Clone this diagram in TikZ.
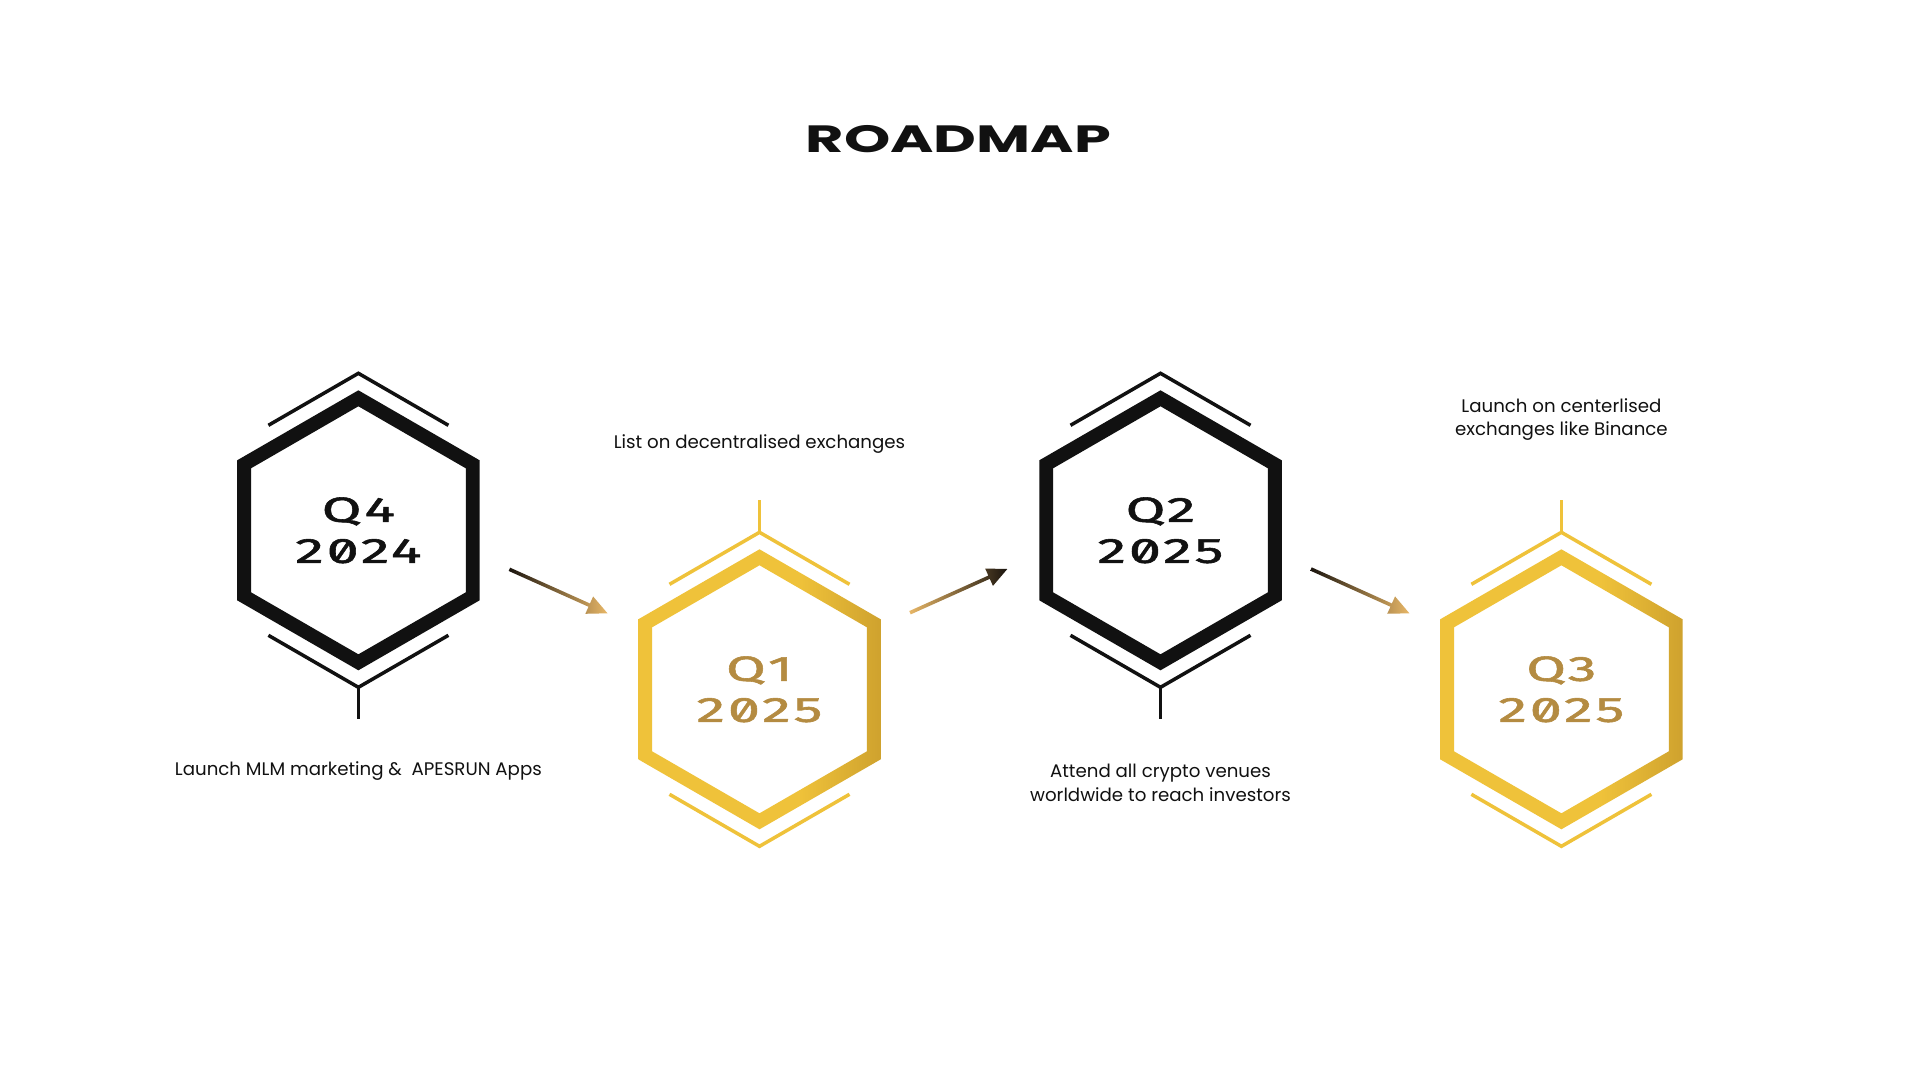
\documentclass[tikz,border=0pt]{standalone}
\usepackage{fontspec}
\setmainfont{Poppins}
\newfontfamily\titlefont[FakeStretch=1.55]{Poppins}
\newfontfamily\qfont[RawFeature=+zero,FakeStretch=1.65,LetterSpace=8,FakeBold=1.6]{Fira Sans}
\usetikzlibrary{calc}
\definecolor{ink}{HTML}{111111}
\definecolor{gold}{HTML}{EFC23A}
\definecolor{golddark}{HTML}{CFA22E}
\definecolor{goldtext}{HTML}{B48B41}
\definecolor{arrowgold}{HTML}{E8B767}
\definecolor{arrowdark}{HTML}{1A140E}
\pgfdeclarehorizontalshading{goldring}{100bp}{color(0bp)=(gold); color(58bp)=(gold); color(75bp)=(golddark); color(100bp)=(golddark)}
\tikzset{
  chev/.style={line width=3.5pt, line cap=butt, line join=miter},
  qlabel/.style={font=\qfont\fontsize{35}{41}\selectfont, align=center, inner sep=0pt},
  desc/.style={font=\fontsize{18.2}{23.5}\selectfont, align=center, inner sep=0pt, text=ink},
  blackhex/.pic={
    \fill[ink, even odd rule] (90:140) -- (30:140) -- (-30:140) -- (-90:140) -- (-150:140) -- (150:140) -- cycle
      (90:124) -- (30:124) -- (-30:124) -- (-90:124) -- (-150:124) -- (150:124) -- cycle;
    \draw[chev, ink] (-90,-105) -- (0,-157) -- (90,-105);
    \draw[chev, ink] (-90,105) -- (0,157) -- (90,105);
    \draw[chev, ink] (0,157) -- (0,189);
  },
  goldhex/.pic={
    \shade[shading=goldring, even odd rule] (90:140) -- (30:140) -- (-30:140) -- (-90:140) -- (-150:140) -- (150:140) -- cycle
      (90:124) -- (30:124) -- (-30:124) -- (-90:124) -- (-150:124) -- (150:124) -- cycle;
    \draw[chev, gold] (-90,-105) -- (0,-157) -- (90,-105);
    \draw[chev, gold] (0,-157) -- (0,-189);
    \draw[chev, gold] (-90,105) -- (0,157) -- (90,105);
  }
}
\newcommand\gradarrow[4]{%
  \coordinate (hb) at ($(#2)!20pt!(#1)$);
  \shade[left color=#3, right color=#4]
    ($(#1)!1.8pt!90:(#2)$) -- ($(hb)!1.8pt!-90:(#1)$) -- ($(hb)!9.5pt!-90:(#1)$) -- (#2)
    -- ($(hb)!9.5pt!90:(#1)$) -- ($(hb)!1.8pt!90:(#1)$) -- ($(#1)!1.8pt!-90:(#2)$) -- cycle;
}
\begin{document}
\begin{tikzpicture}[x=1pt,y=-1pt]
\useasboundingbox (0,0) rectangle (1920,1080);
\fill[white] (0,0) rectangle (1920,1080);

\node[anchor=base, inner sep=0pt, text=ink, font=\titlefont\bfseries\fontsize{38}{38}\selectfont] (title) at (958.4,152.7) {ROADMAP};

\coordinate (h1) at (358.4,530.3);
\coordinate (h2) at (759.5,689.3);
\coordinate (h3) at (1160.5,530.3);
\coordinate (h4) at (1561.4,689.3);

\pic at (h1) {blackhex};
\pic at (h2) {goldhex};
\pic at (h3) {blackhex};
\pic at (h4) {goldhex};

\node[qlabel, text=ink] (q1) at (h1) {Q4\\2024};
\node[qlabel, text=goldtext] (q2) at (h2) {Q1\\2025};
\node[qlabel, text=ink] (q3) at (h3) {Q2\\2025};
\node[qlabel, text=goldtext] (q4) at (h4) {Q3\\2025};

\node[desc, anchor=base] (d1) at (358.4,775) {Launch MLM marketing \& \ APESRUN Apps};
\node[desc, anchor=base] (d2) at (759.5,448.3) {List on decentralised exchanges};
\node[desc, anchor=base] (d3) at (1160.5,801.2) {Attend all crypto venues\\worldwide to reach investors};
\node[desc, anchor=base] (d4) at (1561.4,435.8) {Launch on centerlised\\exchanges like Binance};

\coordinate (a1s) at ($(h1)+(151,39)$);
\coordinate (a1e) at ($(h2)+(-152,-76)$);
\coordinate (a2s) at ($(h2)+(150.5,-76.6)$);
\coordinate (a2e) at ($(h3)+(-153.2,38.7)$);
\coordinate (a3s) at ($(h3)+(150.5,38.7)$);
\coordinate (a3e) at ($(h4)+(-152,-76)$);

\gradarrow{a1s}{a1e}{arrowdark}{arrowgold}
\gradarrow{a2s}{a2e}{arrowgold}{arrowdark}
\gradarrow{a3s}{a3e}{arrowdark}{arrowgold}
\end{tikzpicture}
\end{document}
